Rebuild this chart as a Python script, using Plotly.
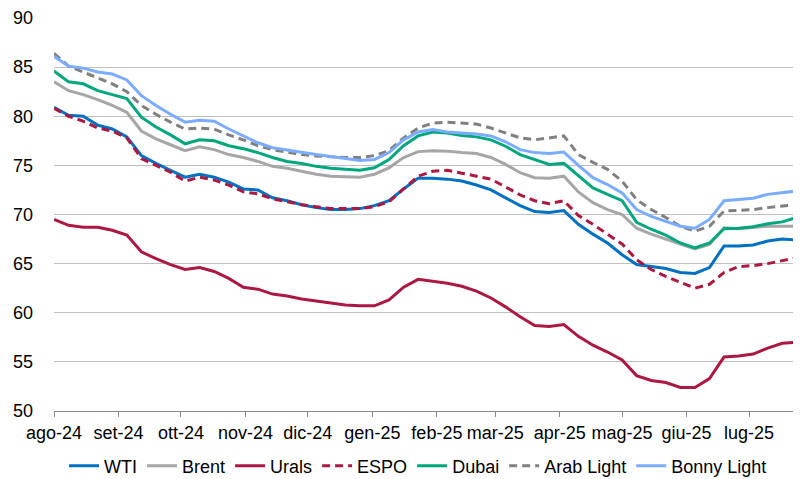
import pandas as pd
import plotly.graph_objects as go

# weekly samples, Aug 1 2024 -> Jul 24 2025
dates = pd.date_range("2024-08-01", periods=52, freq="7D")

wti = [80.9, 80.1, 80.0, 79.1, 78.7, 77.9, 76.0, 75.2, 74.5, 73.8, 74.1, 73.8, 73.3, 72.6,
       72.5, 71.7, 71.4, 71.0, 70.7, 70.5, 70.5, 70.6, 70.9, 71.4, 72.6, 73.7,
       73.7, 73.6, 73.4, 73.0, 72.5, 71.7, 70.9, 70.3, 70.2, 70.4, 69.0, 68.0,
       67.1, 65.9, 64.9, 64.7, 64.5, 64.1, 64.0, 64.6, 66.8, 66.8, 66.9, 67.3, 67.5, 67.4]
brent = [83.5, 82.6, 82.2, 81.7, 81.1, 80.4, 78.5, 77.7, 77.1, 76.5, 76.9, 76.6, 76.1, 75.8,
         75.4, 74.9, 74.7, 74.4, 74.1, 73.9, 73.85, 73.8, 74.1, 74.75, 75.8, 76.4,
         76.5, 76.45, 76.3, 76.2, 75.8, 75.1, 74.25, 73.75, 73.7, 73.9, 72.3, 71.2,
         70.5, 70.0, 68.6, 68.0, 67.5, 67.0, 66.5, 66.95, 68.65, 68.55, 68.65, 68.8, 68.8, 68.8]
urals = [69.5, 68.9, 68.7, 68.7, 68.4, 67.9, 66.2, 65.5, 64.9, 64.4, 64.6, 64.2, 63.5, 62.6,
         62.4, 61.9, 61.7, 61.4, 61.2, 61.0, 60.8, 60.7, 60.7, 61.3, 62.6, 63.4,
         63.2, 63.0, 62.7, 62.2, 61.5, 60.6, 59.6, 58.7, 58.6, 58.8, 57.6, 56.7,
         56.0, 55.2, 53.6, 53.1, 52.9, 52.4, 52.4, 53.3, 55.5, 55.6, 55.8, 56.4, 56.9, 57.0]
espo = [80.8, 80.0, 79.5, 78.8, 78.5, 77.8, 75.7, 75.0, 74.3, 73.4, 73.8, 73.5, 73.0, 72.3,
        72.1, 71.6, 71.3, 71.0, 70.8, 70.6, 70.6, 70.6, 70.8, 71.3, 72.6, 73.9,
        74.4, 74.5, 74.2, 73.9, 73.6, 72.8, 72.0, 71.4, 71.1, 71.4, 69.9, 69.0,
        68.0, 67.0, 65.4, 64.4, 63.7, 63.1, 62.5, 62.9, 64.1, 64.7, 64.8, 65.0, 65.3, 65.6]
dubai = [84.6, 83.5, 83.3, 82.6, 82.2, 81.8, 79.9, 78.9, 78.1, 77.2, 77.6, 77.5, 77.0, 76.7,
         76.3, 75.8, 75.4, 75.2, 74.9, 74.7, 74.6, 74.5, 74.75, 75.6, 77.0, 78.0,
         78.4, 78.3, 78.05, 77.9, 77.6, 76.95, 76.1, 75.6, 75.1, 75.2, 73.9, 72.7,
         72.05, 71.4, 69.2, 68.5, 67.9, 67.1, 66.6, 67.1, 68.55, 68.6, 68.75, 69.05, 69.25, 69.7]
arab_light = [86.4, 85.1, 84.5, 83.9, 83.3, 82.5, 81.1, 80.2, 79.4, 78.7, 78.8, 78.7, 78.1, 77.6,
              77.0, 76.6, 76.35, 76.1, 75.95, 75.85, 75.8, 75.8, 76.0, 76.5, 77.8, 78.8,
              79.3, 79.4, 79.3, 79.2, 78.8, 78.3, 77.8, 77.6, 77.8, 78.0, 76.1, 75.3,
              74.6, 73.4, 71.5, 70.5, 69.7, 68.8, 68.3, 68.8, 70.35, 70.45, 70.5, 70.7, 70.85, 71.0]
bonny_light = [86.1, 85.1, 84.9, 84.5, 84.3, 83.7, 82.1, 81.1, 80.2, 79.4, 79.6, 79.5, 78.7, 78.0,
               77.3, 76.8, 76.55, 76.3, 76.1, 75.9, 75.7, 75.5, 75.6, 76.3, 77.6, 78.4,
               78.65, 78.4, 78.3, 78.2, 78.0, 77.4, 76.6, 76.3, 76.2, 76.35, 75.0, 73.75,
               73.05, 72.2, 70.5, 69.8, 69.3, 68.8, 68.6, 69.5, 71.4, 71.55, 71.65, 72.05, 72.2, 72.4]

month_ticks = pd.date_range("2024-08-01", periods=12, freq="MS")
month_labels = ["ago-24", "set-24", "ott-24", "nov-24", "dic-24", "gen-25",
                "feb-25", "mar-25", "apr-25", "mag-25", "giu-25", "lug-25"]

series = [
    ("WTI", wti, "#0070C0", "solid"),
    ("Brent", brent, "#A6A6A6", "solid"),
    ("Urals", urals, "#AB1943", "solid"),
    ("ESPO", espo, "#AB1943", "8px,5px"),
    ("Dubai", dubai, "#00A67E", "solid"),
    ("Arab Light", arab_light, "#808080", "8px,5px"),
    ("Bonny Light", bonny_light, "#7BACFF", "solid"),
]

fig = go.Figure()
for name, vals, color, dash in series:
    fig.add_trace(go.Scatter(
        x=dates, y=vals, name=name, mode="lines",
        line=dict(color=color, width=3, dash=dash),
    ))

# the page body adds an 8px margin, so the figure is 8px smaller and shifted
fig.update_layout(
    width=793, height=471,
    margin=dict(l=46, r=1, t=10, b=68, autoexpand=False),
    paper_bgcolor="white", plot_bgcolor="white",
    font=dict(family="Liberation Sans, Arial, sans-serif", size=18, color="#000000"),
    legend=dict(orientation="h", x=0.488, xanchor="center", y=-0.14, yanchor="middle",
                font=dict(size=18), bgcolor="rgba(0,0,0,0)"),
    showlegend=True,
)
fig.update_xaxes(
    range=["2024-08-01", "2025-07-25 12:00"],
    tickvals=month_ticks, ticktext=month_labels,
    showgrid=False, showline=True, linecolor="#8C8C8C", linewidth=1,
    ticks="outside", ticklen=5, tickcolor="#8C8C8C", automargin=False,
)
fig.update_yaxes(
    range=[50, 90], dtick=5,
    showgrid=True, gridcolor="#C0C0C0", gridwidth=1,
    showline=False, zeroline=False, ticks="", ticklabelstandoff=20, automargin=False,
)

fig.write_html("out.html")
